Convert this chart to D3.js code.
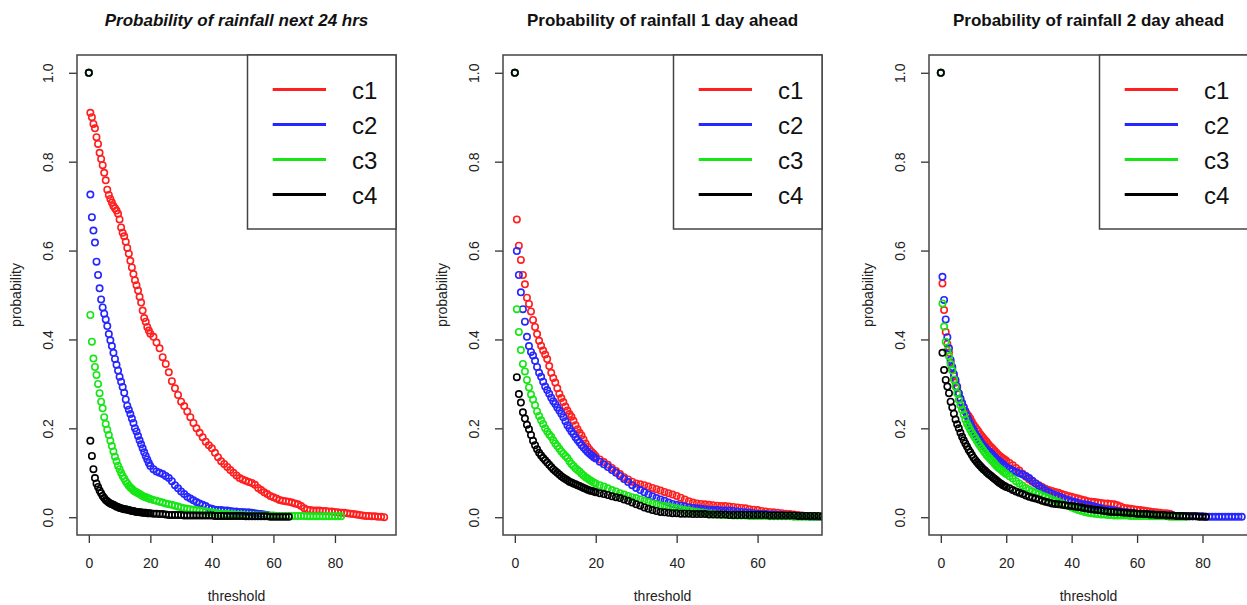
<!DOCTYPE html>
<html>
<head>
<meta charset="utf-8">
<script src="https://cdn.jsdelivr.net/npm/d3@7"></script>
<style>
  body { margin: 0; background: #fff; }
  svg { display: block; font-family: "Liberation Sans", Arial, sans-serif; }
</style>
</head>
<body>
<div id="chart"></div>
<script>
// threshold grid shared by every series (step 0.5 up to 20, then 1)
var thresholds = [0,0.5,1,1.5,2,2.5,3,3.5,4,4.5,5,5.5,6,6.5,7,7.5,8,8.5,9,9.5,
  10,10.5,11,11.5,12,12.5,13,13.5,14,14.5,15,15.5,16,16.5,17,17.5,18,18.5,19,19.5,20,
  21,22,23,24,25,26,27,28,29,30,31,32,33,34,35,36,37,38,39,40,
  41,42,43,44,45,46,47,48,49,50,51,52,53,54,55,56,57,58,59,60,
  61,62,63,64,65,66,67,68,69,70,71,72,73,74,75,76,77,78,79,80,
  81,82,83,84,85,86,87,88,89,90,91,92,93,94,95,96];

// panel 1 : next 24 hrs
var p24_c1 = [1.0,0.91,0.90,0.885,0.875,0.855,0.84,0.82,0.806,0.792,
  0.775,0.758,0.737,0.725,0.716,0.708,0.70,0.695,0.69,0.683,
  0.67,0.652,0.64,0.632,0.62,0.606,0.593,0.577,0.562,0.547,
  0.533,0.522,0.51,0.496,0.483,0.465,0.448,0.44,0.428,0.42,0.413,
  0.406,0.393,0.38,0.36,0.345,0.326,0.306,0.29,0.275,0.26,
  0.25,0.238,0.225,0.212,0.2,0.19,0.18,0.17,0.162,0.155,
  0.145,0.135,0.126,0.12,0.113,0.106,0.1,0.094,0.088,0.085,
  0.082,0.079,0.077,0.073,0.066,0.061,0.056,0.052,0.048,0.045,
  0.042,0.039,0.037,0.036,0.035,0.033,0.031,0.029,0.025,0.02,
  0.017,0.016,0.015,0.015,0.015,0.014,0.014,0.013,0.013,0.012,
  0.011,0.01,0.01,0.009,0.008,0.007,0.006,0.005,0.004,0.003,
  0.003,0.002,0.002,0.001,0.001,0];
var p24_c2 = [1.0,0.726,0.675,0.645,0.618,0.575,0.545,0.515,0.49,0.472,
  0.458,0.445,0.43,0.412,0.398,0.385,0.37,0.356,0.343,0.33,
  0.316,0.305,0.293,0.28,0.265,0.251,0.242,0.232,0.222,0.212,
  0.2,0.193,0.183,0.173,0.164,0.155,0.146,0.138,0.13,0.122,0.115,
  0.108,0.103,0.1,0.097,0.093,0.088,0.081,0.072,0.065,0.058,
  0.052,0.046,0.042,0.038,0.034,0.031,0.028,0.025,0.021,0.019,
  0.017,0.016,0.016,0.015,0.015,0.014,0.013,0.013,0.012,0.012,
  0.011,0.011,0.01,0.009,0.008,0.007,0.006,0.005];
var p24_c3 = [1.0,0.455,0.395,0.357,0.338,0.32,0.3,0.279,0.26,0.245,
  0.225,0.21,0.197,0.185,0.172,0.16,0.148,0.136,0.126,0.116,
  0.108,0.1,0.093,0.087,0.081,0.076,0.071,0.067,0.064,0.06,
  0.058,0.056,0.054,0.052,0.05,0.048,0.046,0.045,0.044,0.042,0.041,
  0.039,0.037,0.035,0.033,0.031,0.029,0.028,0.026,0.024,0.022,
  0.02,0.019,0.018,0.017,0.016,0.015,0.014,0.013,0.012,0.011,
  0.01,0.009,0.008,0.007,0.007,0.006,0.006,0.005,0.005,0.005,
  0.004,0.004,0.004,0.004,0.004,0.004,0.004,0.004,0.004,0.004,
  0.003,0.003,0.003,0.003,0.003,0.003,0.003,0.003,0.003,0.003,
  0.002,0.002,0.002,0.002,0.002,0.002,0.002,0.002,0.002,0.002,0.002,0.002];
var p24_c4 = [1.0,0.172,0.138,0.108,0.088,0.076,0.068,0.06,0.054,0.048,
  0.043,0.039,0.036,0.033,0.031,0.029,0.028,0.026,0.024,0.023,
  0.021,0.02,0.019,0.018,0.018,0.017,0.016,0.015,0.014,0.014,
  0.013,0.012,0.012,0.011,0.011,0.01,0.01,0.01,0.009,0.009,0.009,
  0.008,0.008,0.007,0.007,0.006,0.005,0.005,0.005,0.005,0.005,
  0.004,0.004,0.004,0.004,0.004,0.004,0.004,0.004,0.004,0.004,
  0.003,0.003,0.003,0.003,0.003,0.003,0.003,0.003,0.003,0.003,
  0.002,0.002,0.002,0.002,0.002,0.002,0.002,0.002,
  0.001,0.001,0.001,0.001,0.001,0.001,0.001];

// panel 2 : 1 day ahead
var d1_c1 = [1.0,0.67,0.611,0.579,0.545,0.524,0.494,0.48,0.463,0.444,
  0.428,0.412,0.397,0.386,0.375,0.366,0.356,0.34,0.325,0.313,
  0.303,0.29,0.278,0.268,0.259,0.249,0.24,0.232,0.226,0.217,
  0.207,0.198,0.19,0.184,0.175,0.166,0.158,0.152,0.147,0.142,0.137,
  0.13,0.124,0.118,0.111,0.104,0.097,0.09,0.085,0.08,0.076,
  0.074,0.072,0.069,0.066,0.063,0.06,0.057,0.054,0.051,0.048,
  0.044,0.04,0.036,0.033,0.031,0.03,0.029,0.028,0.027,0.026,
  0.025,0.025,0.024,0.023,0.022,0.021,0.02,0.018,0.017,0.016,
  0.014,0.013,0.012,0.011,0.01,0.009,0.008,0.007,0.006,0.005,
  0.004,0.003,0.002,0.002,0.001,0.001];
var d1_c2 = [1.0,0.599,0.545,0.506,0.468,0.44,0.406,0.385,0.372,0.364,
  0.352,0.338,0.325,0.316,0.305,0.294,0.286,0.278,0.269,0.261,
  0.255,0.247,0.24,0.233,0.225,0.216,0.207,0.2,0.193,0.187,
  0.18,0.174,0.168,0.162,0.157,0.152,0.147,0.143,0.139,0.135,0.132,
  0.125,0.119,0.113,0.106,0.1,0.093,0.086,0.079,0.072,0.066,
  0.061,0.056,0.051,0.047,0.043,0.04,0.037,0.033,0.03,0.028,
  0.026,0.024,0.022,0.021,0.02,0.019,0.018,0.017,0.016,0.016,
  0.015,0.015,0.015,0.014,0.013,0.012,0.011,0.01,0.009,0.008,
  0.007,0.007,0.006,0.006,0.005,0.005,0.004,0.004,0.003,0.003,
  0.002,0.002,0.001,0.001,0.001,0.001];
var d1_c3 = [1.0,0.468,0.417,0.376,0.345,0.328,0.309,0.292,0.276,0.265,
  0.252,0.238,0.228,0.218,0.21,0.2,0.193,0.186,0.181,0.173,
  0.166,0.16,0.154,0.148,0.143,0.138,0.133,0.126,0.12,0.115,
  0.11,0.106,0.103,0.098,0.094,0.09,0.087,0.084,0.081,0.078,0.076,
  0.072,0.069,0.065,0.061,0.058,0.054,0.051,0.048,0.045,0.043,
  0.04,0.037,0.034,0.031,0.029,0.027,0.025,0.024,0.022,0.02,
  0.018,0.016,0.015,0.013,0.012,0.01,0.009,0.008,0.007,0.006,
  0.005,0.005,0.005,0.004,0.004,0.004,0.004,0.003,0.003,0.003,
  0.003,0.003,0.002,0.002,0.002,0.002,0.002,0.002,0.001,0.001,
  0.001,0.001,0.001,0.001,0.001,0.001];
var d1_c4 = [1.0,0.315,0.277,0.258,0.236,0.222,0.208,0.198,0.185,0.172,
  0.162,0.153,0.145,0.139,0.133,0.128,0.123,0.118,0.113,0.108,
  0.104,0.1,0.096,0.092,0.089,0.086,0.083,0.08,0.078,0.076,
  0.074,0.072,0.07,0.068,0.066,0.064,0.062,0.06,0.059,0.058,0.056,
  0.054,0.052,0.05,0.047,0.045,0.043,0.04,0.037,0.033,0.029,
  0.026,0.022,0.019,0.016,0.014,0.012,0.011,0.01,0.009,0.009,
  0.008,0.008,0.008,0.007,0.007,0.007,0.007,0.006,0.006,0.006,
  0.006,0.006,0.005,0.005,0.005,0.005,0.005,0.005,0.005,0.005,
  0.005,0.005,0.004,0.004,0.004,0.004,0.004,0.004,0.004,0.003,
  0.003,0.003,0.003,0.003,0.003,0.002];

// panel 3 : 2 day ahead
var d2_c1 = [1.0,0.526,0.466,0.417,0.39,0.37,0.348,0.333,0.318,0.303,
  0.29,0.278,0.266,0.256,0.247,0.239,0.232,0.228,0.222,0.215,
  0.208,0.203,0.198,0.193,0.187,0.183,0.178,0.174,0.17,0.165,
  0.16,0.157,0.153,0.149,0.145,0.141,0.138,0.135,0.132,0.13,0.127,
  0.122,0.117,0.111,0.105,0.098,0.091,0.085,0.08,0.076,0.072,
  0.068,0.064,0.061,0.059,0.057,0.055,0.052,0.05,0.048,0.046,
  0.044,0.042,0.04,0.038,0.036,0.035,0.034,0.033,0.032,0.031,
  0.031,0.03,0.029,0.027,0.024,0.021,0.02,0.019,0.018,0.017,
  0.016,0.015,0.014,0.013,0.012,0.011,0.01,0.009,0.009,0.008];
var d2_c2 = [1.0,0.541,0.489,0.445,0.405,0.38,0.354,0.338,0.322,0.309,
  0.294,0.279,0.267,0.257,0.248,0.238,0.228,0.219,0.211,0.203,
  0.196,0.189,0.183,0.177,0.171,0.166,0.161,0.157,0.153,0.149,
  0.147,0.143,0.139,0.135,0.131,0.128,0.125,0.122,0.119,0.116,0.113,
  0.109,0.105,0.102,0.099,0.096,0.093,0.088,0.082,0.076,0.07,
  0.065,0.06,0.056,0.053,0.05,0.047,0.044,0.041,0.039,0.036,
  0.034,0.032,0.03,0.029,0.028,0.026,0.024,0.022,0.02,0.018,
  0.017,0.016,0.015,0.014,0.013,0.012,0.011,0.01,0.009,0.008,
  0.008,0.007,0.007,0.006,0.006,0.005,0.005,0.005,0.004,0.004,
  0.004,0.003,0.003,0.003,0.003,0.002,0.002,0.002,0.002,0.002,
  0.001,0.001,0.001,0.001,0.001,0.001,0.001,0.001,0.001,0.001,0.001,0.001];
var d2_c3 = [1.0,0.481,0.429,0.395,0.375,0.362,0.345,0.33,0.31,0.294,
  0.279,0.264,0.252,0.241,0.231,0.22,0.211,0.204,0.197,0.19,
  0.184,0.178,0.172,0.166,0.16,0.155,0.15,0.145,0.14,0.136,
  0.132,0.128,0.124,0.12,0.116,0.112,0.109,0.106,0.103,0.1,0.097,
  0.092,0.087,0.081,0.076,0.071,0.066,0.062,0.058,0.055,0.052,
  0.049,0.046,0.043,0.04,0.037,0.034,0.031,0.028,0.025,0.022,
  0.019,0.016,0.014,0.012,0.01,0.009,0.008,0.007,0.006,0.006,
  0.005,0.005,0.004,0.004,0.004,0.004,0.004,0.003,0.003,0.003,
  0.003,0.003,0.003,0.002,0.002,0.002,0.002,0.002,0.002,0.001,
  0.001,0.001,0.001,0.001,0.001];
var d2_c4 = [1.0,0.37,0.331,0.309,0.294,0.279,0.26,0.247,0.233,0.22,
  0.209,0.2,0.19,0.181,0.173,0.166,0.159,0.152,0.146,0.14,
  0.134,0.129,0.124,0.12,0.116,0.112,0.108,0.105,0.101,0.098,
  0.095,0.092,0.089,0.086,0.083,0.08,0.077,0.075,0.072,0.07,0.068,
  0.065,0.061,0.058,0.055,0.052,0.049,0.046,0.044,0.042,0.04,
  0.037,0.035,0.033,0.031,0.03,0.029,0.028,0.027,0.026,0.025,
  0.024,0.023,0.022,0.02,0.019,0.018,0.017,0.016,0.015,0.014,
  0.013,0.012,0.012,0.011,0.011,0.01,0.01,0.009,0.009,0.008,
  0.008,0.007,0.007,0.006,0.006,0.005,0.005,0.005,0.004,0.004,
  0.004,0.003,0.003,0.003,0.002,0.002,0.002,0.002,0.001,0.001,0.001];

var seriesNames = ["c1", "c2", "c3", "c4"];
var seriesColors = ["#ff1f1f", "#2626ff", "#16e616", "#000000"];
var panelTitles = ["Probability of rainfall next 24 hrs",
                   "Probability of rainfall 1 day ahead",
                   "Probability of rainfall 2 day ahead"];
var xLimits = [[0, 96], [0, 73], [0, 90.3]];
var xTickValues = [[0, 20, 40, 60, 80], [0, 20, 40, 60], [0, 20, 40, 60, 80]];
var yTickValues = [0, 0.2, 0.4, 0.6, 0.8, 1.0];

var panels = [
  {title: panelTitles[0], italic: true,  series: [p24_c1, p24_c2, p24_c3, p24_c4], xlim: xLimits[0], ticks: xTickValues[0]},
  {title: panelTitles[1], italic: false, series: [d1_c1, d1_c2, d1_c3, d1_c4],     xlim: xLimits[1], ticks: xTickValues[1]},
  {title: panelTitles[2], italic: false, series: [d2_c1, d2_c2, d2_c3, d2_c4],     xlim: xLimits[2], ticks: xTickValues[2]}
];

var svgWidth = 1247;
var svgHeight = 605;
var plotTop = 55;
var plotBottom = 535;
var plotWidth = 319;
var plotHeight = plotBottom - plotTop;
var plotLefts = [77, 503, 929];
var axisColor = "#333";

var svg = d3.select("#chart").append("svg")
      .attr("width", svgWidth)
      .attr("height", svgHeight);

panels.forEach(function(p, k) {
  var left = plotLefts[k];
  var g = svg.append("g")
      .attr("transform", `translate(${left}, ${plotTop})`);

  // R style 4% padding on both ends
  var xpad = (p.xlim[1] - p.xlim[0]) * 0.04;
  var xScale = d3.scaleLinear()
      .domain([p.xlim[0] - xpad, p.xlim[1] + xpad])
      .range([0, plotWidth]);
  var yScale = d3.scaleLinear()
      .domain([-0.04, 1.04])
      .range([plotHeight, 0]);

  g.append("clipPath").attr("id", "clip" + k)
    .append("rect")
      .attr("width", plotWidth)
      .attr("height", plotHeight);

  var pts = g.append("g").attr("clip-path", `url(#clip${k})`);

  p.series.forEach(function(vals, j) {
    pts.append("g").selectAll("circle")
      .data(vals)
      .enter()
      .append("circle")
      .attr("cx", (d, i) => xScale(thresholds[i]))
      .attr("cy", d => yScale(d))
      .attr("r", 3.2)
      .attr("fill", "none")
      .attr("stroke", seriesColors[j])
      .attr("stroke-width", 1.6);
  });

  // x axis
  var xAxis = d3.axisBottom(xScale).tickValues(p.ticks).tickSize(8).tickFormat(d3.format("d"));
  var xg = g.append("g")
      .attr("transform", `translate(0, ${plotHeight})`)
      .call(xAxis);
  xg.select(".domain").remove();
  xg.attr("font-size", 14).attr("font-family", null);
  xg.selectAll("line").attr("stroke", axisColor).attr("stroke-width", 1.3);
  xg.selectAll("text").attr("y", 33).attr("dy", null).attr("fill", "#222");

  // y axis, labels parallel to the axis
  var yAxis = d3.axisLeft(yScale).tickValues(yTickValues).tickSize(8).tickFormat(d3.format(".1f"));
  var yg = g.append("g").call(yAxis);
  yg.select(".domain").remove();
  yg.attr("font-size", 14).attr("font-family", null);
  yg.selectAll("line").attr("stroke", axisColor).attr("stroke-width", 1.3);
  yg.selectAll("text")
    .attr("transform", "rotate(-90)")
    .attr("x", 0)
    .attr("y", -24)
    .attr("dy", null)
    .attr("text-anchor", "middle")
    .attr("fill", "#222");

  // plot box
  g.append("rect")
    .attr("width", plotWidth)
    .attr("height", plotHeight)
    .attr("fill", "none")
    .attr("stroke", "#444")
    .attr("stroke-width", 1.5);

  // legend
  var legendLeft = 170.5;
  g.append("rect")
    .attr("x", legendLeft)
    .attr("y", 0)
    .attr("width", plotWidth - legendLeft)
    .attr("height", 174)
    .attr("fill", "#fff")
    .attr("stroke", "#444")
    .attr("stroke-width", 1.5);
  seriesNames.forEach(function(name, j) {
    var ly = 34.5 + j * 35;
    g.append("line")
      .attr("x1", 195.7).attr("x2", 249)
      .attr("y1", ly).attr("y2", ly)
      .attr("stroke", seriesColors[j])
      .attr("stroke-width", 3);
    g.append("text")
      .attr("x", 275)
      .attr("y", ly + 9)
      .attr("font-size", 24)
      .attr("fill", "#111")
      .text(name);
  });

  // titles and axis labels
  svg.append("text")
    .attr("x", left + plotWidth / 2)
    .attr("y", 26)
    .attr("text-anchor", "middle")
    .attr("font-size", 17)
    .attr("font-weight", "bold")
    .attr("font-style", p.italic ? "italic" : "normal")
    .attr("fill", "#111")
    .text(p.title);

  svg.append("text")
    .attr("x", left + plotWidth / 2)
    .attr("y", 601)
    .attr("text-anchor", "middle")
    .attr("font-size", 14)
    .attr("fill", "#222")
    .text("threshold");

  svg.append("text")
    .attr("transform", `translate(${left - 56}, ${plotTop + plotHeight / 2}) rotate(-90)`)
    .attr("text-anchor", "middle")
    .attr("font-size", 14)
    .attr("fill", "#222")
    .text("probability");
});
</script>
</body>
</html>
